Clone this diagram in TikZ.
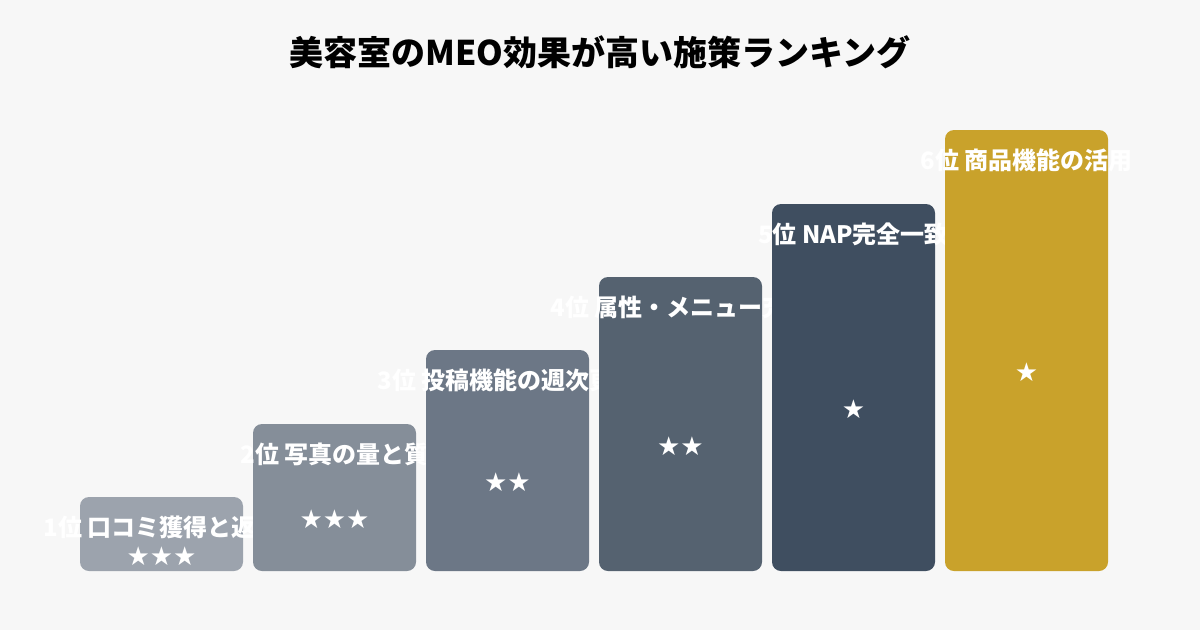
\documentclass[tikz,border=0pt]{standalone}
\usepackage{fontspec}
\setmainfont{Noto Sans CJK JP}
\newfontfamily\starfont{DejaVu Sans}
\definecolor{bg}{HTML}{F7F7F7}
\definecolor{cA}{HTML}{9CA3AD}
\definecolor{cB}{HTML}{858E99}
\definecolor{cC}{HTML}{6C7786}
\definecolor{cD}{HTML}{556270}
\definecolor{cE}{HTML}{3F4E60}
\definecolor{cF}{HTML}{C9A22B}
\begin{document}
\begin{tikzpicture}[x=1pt,y=-1pt,
  bar/.style={rounded corners=9pt},
  lbl/.style={text=white,font=\fontsize{24}{28}\selectfont\bfseries,inner sep=0pt},
  stars/.style={text=white,font=\starfont\fontsize{26}{28}\selectfont,inner sep=0pt}]
\fill[bg] (0,0) rectangle (1200,630);
\useasboundingbox (0,0) rectangle (1200,630);
\node[font=\fontsize{34}{40}\selectfont\bfseries] (title) at (600,52) {美容室のMEO効果が高い施策ランキング};
\foreach \i/\l/\t/\c/\lab/\st in {
 1/80/497/cA/{1位 口コミ獲得と返信}/★★★,
 2/253/424/cB/{2位 写真の量と質}/★★★,
 3/426/350/cC/{3位 投稿機能の週次更新}/★★,
 4/599/277/cD/{4位 属性・メニュー充実}/★★,
 5/772/204/cE/{5位 NAP完全一致}/★,
 6/945/130/cF/{6位 商品機能の活用}/★}{
  \fill[\c,bar] (\l,\t) rectangle ++(163,571-\t);
  \node[lbl] (l\i) at (\l+81.5,\t+30) {\lab};
  \node[stars] (s\i) at (\l+81.5,{(\t+571)/2+22}) {\st};
}
\end{tikzpicture}
\end{document}
